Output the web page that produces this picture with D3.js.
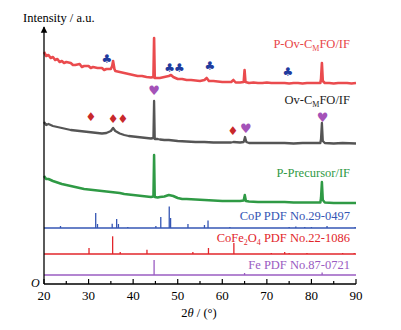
<!DOCTYPE html>
<html>
<head>
<meta charset="utf-8">
<script src="https://cdn.jsdelivr.net/npm/d3@7.9.0/dist/d3.min.js"></script>
<style>
  body { margin: 0; background: #fff; }
  svg { font-family: "Liberation Serif", "Times New Roman", serif; }
</style>
</head>
<body>
<svg id="chart" width="401" height="330"></svg>
<script>
// 2theta (deg), intensity (a.u., stacked offsets included)
const redCurve = [[20,232],[20.5,228],[21,229],[21.5,226],[22,227],[22.5,224],[23,225],[23.5,222],[24,223],[24.5,221],[25,222],[26,221],[26.5,219],[27,219],[28,220],[28.5,217],[29,218],[30,218],[30.5,216],[31,217],[32,216],[33,216],[33.5,214],[34,215],[35,215],[35.3,218],[35.5,223],[35.8,215],[36,213],[37,212],[38,211],[39,210],[40,209],[41,208],[42,208],[43,207],[44,206.5],[44.55,207],[44.7,246],[44.85,206],[45.5,206],[46,206],[47,207],[48,208],[48.5,209],[49,207],[50,205],[51,205],[52,204],[53,204],[54,203.5],[55,203],[56,204],[56.5,206],[57,203],[58,203],[59,202.5],[60,202],[61,202],[62,202],[62.5,204],[63,201.5],[64,201.5],[64.8,202],[65,214],[65.2,202],[66,201],[67,201.5],[68,201],[69,201],[70,201.5],[71,201],[72,201],[73,201],[74,201],[75,200.5],[76,201],[77,201],[78,200.5],[79,201],[80,201],[81,201],[82,201],[82.15,205],[82.35,221],[82.55,203],[83,201],[84,201],[85,200.5],[86,201],[87,201],[88,201],[89,200.5],[90,201]];

const grayCurve = [[20,162],[20.5,159],[21,160],[22,158],[23,157],[24,156],[25,155],[26,154],[27,153.5],[28,153],[29,152.5],[30,152],[31,151.5],[32,151],[33,150.5],[34,151],[35,153],[35.5,156],[36,153],[37,150.5],[38,149],[39,148],[40,147.5],[41,147],[42,146.5],[43,146],[44,145.5],[44.55,146],[44.7,183],[44.85,145],[45.5,145],[46,144.5],[47,144],[48,144],[49,143.5],[50,143],[52,142.5],[54,142],[56,142],[58,141.5],[60,141.5],[62,141.5],[62.5,142],[64,141.5],[64.8,142],[65.1,147],[65.4,142],[66,141],[68,141],[70,141],[72,141],[74,141],[76,140.5],[78,141],[80,141],[82,141],[82.15,145],[82.35,161],[82.55,143],[83,141],[85,140.5],[87,141],[90,140.5]];

const greenCurve = [[20,108],[20.5,105],[21,105],[22,103],[23,101.5],[24,100],[25,99],[26,98],[27,97],[28,96],[29,95],[30,94.5],[31,94],[32,93.5],[33,93],[34,92.5],[35,92],[36,91.5],[37,91],[38,90],[39,89.5],[40,89],[41,88.5],[42,88],[43,87.5],[44,87],[44.55,87.5],[44.7,129],[44.85,87],[45.5,86.5],[46,87],[47,87.5],[48,89],[48.5,88.5],[49,88],[50,86],[51,85],[52,85],[54,84.5],[56,84],[58,83.5],[60,83],[62,83],[64,83],[64.8,83.5],[65.05,89],[65.3,83],[66,82.5],[68,82],[70,82],[72,82],[74,82],[76,81.5],[78,81.5],[80,81.5],[82,81.5],[82.15,86],[82.35,102],[82.55,84],[83,81.5],[85,81],[87,81],[90,81]];

// reference patterns: [2theta, relative height]
const copSticks = [[23.7,2],[31.6,15],[32.0,4],[35.3,4.3],[36.3,9],[36.7,4],[38.8,1],[45.1,2],[46.2,11],[48.1,21.6],[48.4,10],[52.3,4],[56.0,3],[56.8,7.6],[61.7,1],[75.0,1],[76.5,1.5],[78.5,1],[80.0,1],[83.5,2],[89.8,1]];
const cfoSticks = [[30.1,6],[35.4,17.7],[37.1,2],[43.1,4.3],[53.4,2],[56.9,6],[62.6,11],[71.0,1],[74.0,2],[75.0,1],[79.0,1],[87.0,1],[89.6,1]];
const feSticks = [[44.7,15],[65.0,2],[82.4,2.5]];
const stickBase = { cop: 56, cfo: 30, fe: 9 };

// phase markers: [2theta, intensity]
const clubMarks = [[34.1,225],[48.2,216],[50.4,216],[57.2,218],[74.7,212]];
const diamondMarks = [[30.5,167],[35.5,165],[37.7,165],[62.4,153]];
const heartMarks = [[44.7,194],[65.3,156],[82.5,167]];

const xTicks = [20, 30, 40, 50, 60, 70, 80, 90];
const xMinor = [25, 35, 45, 55, 65, 75, 85];

const svg = d3.select("#chart");
const x = d3.scaleLinear().domain([20, 90]).range([44, 356]);
const y = d3.scaleLinear().domain([0, 256]).range([284, 28]);

const line = d3.line().x(d => x(d[0])).y(d => y(d[1]));

const curves = [
  { data: redCurve, color: "#ea4b4e", w: 2.6 },
  { data: grayCurve, color: "#555555", w: 2.3 },
  { data: greenCurve, color: "#2f9a45", w: 2.5 }
];
svg.selectAll("path.curve")
  .data(curves)
  .enter()
  .append("path")
  .attr("class", "curve")
  .attr("d", d => line(d.data))
  .attr("fill", "none")
  .attr("stroke", d => d.color)
  .attr("stroke-width", d => d.w)
  .attr("stroke-linejoin", "round");

// stick patterns
const patterns = [
  { sticks: copSticks, base: stickBase.cop, color: "#3556b4" },
  { sticks: cfoSticks, base: stickBase.cfo, color: "#e2262b" },
  { sticks: feSticks, base: stickBase.fe, color: "#9a5cc2" }
];
patterns.forEach(p => {
  const g = svg.append("g");
  g.append("line")
    .attr("x1", x(20)).attr("x2", x(90))
    .attr("y1", y(p.base)).attr("y2", y(p.base))
    .attr("stroke", p.color).attr("stroke-width", 1.3);
  g.selectAll("line.stick")
    .data(p.sticks)
    .enter()
    .append("line")
    .attr("class", "stick")
    .attr("x1", d => x(d[0])).attr("x2", d => x(d[0]))
    .attr("y1", y(p.base)).attr("y2", d => y(p.base + d[1]))
    .attr("stroke", p.color).attr("stroke-width", 1.3);
});

// markers
function drawMarks(data, glyph, color, size) {
  svg.selectAll(null)
    .data(data)
    .enter()
    .append("text")
    .attr("x", d => x(d[0]))
    .attr("y", d => y(d[1]))
    .attr("text-anchor", "middle")
    .attr("dominant-baseline", "central")
    .attr("font-family", "DejaVu Sans")
    .attr("font-size", size)
    .attr("fill", color)
    .text(glyph);
}
drawMarks(clubMarks, "\u2663", "#1f3c9e", 12);
drawMarks(diamondMarks, "\u2666", "#c8282b", 12);
drawMarks(heartMarks, "\u2665", "#a452b8", 13);

// labels; {sub: ".."} parts are subscripts
function label(yPos, color, parts) {
  const t = svg.append("text")
    .attr("x", 350).attr("y", yPos)
    .attr("text-anchor", "end")
    .attr("font-size", 12.5)
    .attr("fill", color);
  let lowered = false;
  parts.forEach(p => {
    if (typeof p === "string") {
      t.append("tspan").attr("dy", lowered ? -3 : 0).text(p);
      lowered = false;
    } else {
      t.append("tspan").attr("font-size", 8).attr("dy", 3).text(p.sub);
      lowered = true;
    }
  });
}
label(48, "#e8474a", ["P-Ov-C", { sub: "M" }, "FO/IF"]);
label(104, "#222", ["Ov-C", { sub: "M" }, "FO/IF"]);
label(177, "#2f9a45", ["P-Precursor/IF"]);
label(220, "#3556b4", ["CoP PDF No.29-0497"]);
label(242, "#e2262b", ["CoFe", { sub: "2" }, "O", { sub: "4" }, " PDF No.22-1086"]);
label(269, "#9a5cc2", ["Fe PDF No.87-0721"]);

// axes
const xAxis = svg.append("g").attr("transform", `translate(0,${y(0)})`);
xAxis.append("line").attr("x1", x(20)).attr("x2", x(90)).attr("stroke", "#000").attr("stroke-width", 1.3);
xAxis.selectAll("line.major").data(xTicks).enter().append("line")
  .attr("x1", d => x(d)).attr("x2", d => x(d)).attr("y1", 0).attr("y2", -5)
  .attr("stroke", "#000").attr("stroke-width", 1.2);
xAxis.selectAll("line.minor").data(xMinor).enter().append("line")
  .attr("x1", d => x(d)).attr("x2", d => x(d)).attr("y1", 0).attr("y2", -3)
  .attr("stroke", "#000").attr("stroke-width", 1.2);
xAxis.selectAll("text").data(xTicks).enter().append("text")
  .attr("x", d => x(d)).attr("y", 16)
  .attr("text-anchor", "middle").attr("font-size", 13)
  .text(d => d);

svg.append("defs").append("marker")
  .attr("id", "arrow").attr("viewBox", "0 0 10 10")
  .attr("refX", 9).attr("refY", 5)
  .attr("markerWidth", 5).attr("markerHeight", 6).attr("orient", "auto")
  .append("path").attr("d", "M0,0 L10,5 L0,10 z").attr("fill", "#000");
svg.append("line")
  .attr("x1", x(20)).attr("x2", x(20)).attr("y1", y(0)).attr("y2", 27)
  .attr("stroke", "#000").attr("stroke-width", 1.3)
  .attr("marker-end", "url(#arrow)");

svg.append("text").attr("x", 23).attr("y", 22).attr("font-size", 12.5).text("Intensity / a.u.");
svg.append("text").attr("x", 31).attr("y", 287).attr("font-size", 12).attr("font-style", "italic").text("O");

const xt = svg.append("text").attr("x", 199).attr("y", 317).attr("text-anchor", "middle").attr("font-size", 12.5);
xt.append("tspan").text("2");
xt.append("tspan").attr("font-style", "italic").text("\u03b8");
xt.append("tspan").text(" / (\u00b0)");
</script>
</body>
</html>
